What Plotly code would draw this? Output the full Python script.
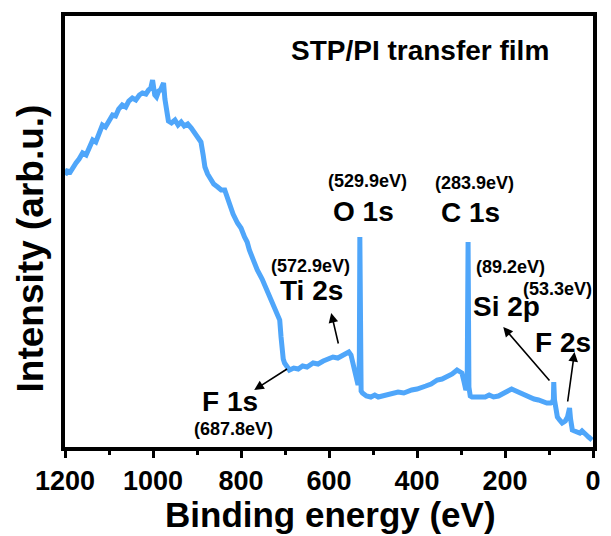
import plotly.graph_objects as go

# XPS survey spectrum of the STP/PI transfer film
binding_energy = [
    1200, 1195, 1188, 1182, 1175, 1168, 1160, 1152, 1145, 1137, 1130, 1122, 1115, 1108,
    1100, 1092, 1085, 1078, 1070, 1062, 1055, 1047, 1039, 1031, 1024, 1016, 1010, 1005,
    1001, 998, 996, 992, 987, 983, 979, 976, 973, 969, 965, 958, 950, 943, 936, 929,
    921, 913, 906, 898, 891, 886, 882, 876, 869, 862, 853, 845, 837, 831, 826, 818,
    808, 800, 792, 786, 781, 772, 763, 752, 741, 730, 719, 715, 712, 709, 707, 704,
    701, 695, 690, 680, 670, 660, 650, 636, 625, 613, 602, 591, 580, 570, 562, 555,
    550, 546, 541, 537, 534, 532, 531, 529.9, 528.5, 527, 524, 515, 505, 496, 488, 478,
    466, 454, 443, 430, 420, 412, 400, 390, 380, 368, 354, 343, 332, 320, 309, 303,
    298, 293, 289, 286, 283.9, 282, 279, 275, 265, 255, 245, 236, 226, 215, 205, 195,
    185, 175, 165, 155, 144, 134, 124, 114, 105, 96, 92, 90, 89.2, 87.5, 84, 81, 76,
    70, 66, 63, 58, 55, 53.3, 51, 47, 42, 36, 30, 25, 20, 15, 10, 5, 2,
]
intensity = [
    272, 276, 275, 280, 284, 288, 294, 292, 300, 307, 305, 314, 322, 320,
    327, 332, 331, 338, 342, 340, 346, 349, 347, 352, 354, 353, 357, 359,
    367, 358, 352, 350, 356, 357, 362, 364, 348, 334, 326, 324, 327, 322, 325, 321,
    323, 319, 314, 310, 305, 292, 280, 273, 267, 263, 260, 257, 257, 249, 240, 233,
    224, 219, 210, 205, 197, 186, 177, 168, 157, 148, 137, 133, 127, 110, 97, 88,
    84, 80, 77, 79, 78, 81, 80, 84, 83, 86, 88, 90, 89, 92, 93, 95,
    92, 84, 74, 66, 62, 70, 90, 210, 75, 56, 54, 51, 50, 52, 50, 51,
    52, 53, 55, 54, 56, 57, 58, 60, 61, 63, 67, 68, 70, 73, 77, 76,
    74, 65, 57, 60, 205, 60, 51, 50, 50, 51, 50, 52, 50, 51, 53, 55,
    58, 56, 54, 52, 49, 48, 47, 45, 44, 44, 45, 48, 65, 47, 38, 30, 27,
    24, 25, 26, 30, 36, 39, 28, 17, 16, 15, 14, 16, 13, 12, 10, 8, 7,
]

# Peak labels: (text, energy position, intensity position, font size)
peak_labels = [
    ("(529.9eV)", 513, 266, 18), ("O 1s", 522, 236, 28),
    ("(283.9eV)", 269, 264, 18), ("C 1s", 278, 235, 28),
    ("(572.9eV)", 642, 181, 18), ("Ti 2s", 640, 157, 28),
    ("(89.2eV)", 188, 180, 18), ("Si 2p", 197, 141, 28),
    ("(53.3eV)", 80, 158, 18), ("F 2s", 69, 105, 28),
    ("F 1s", 824, 46, 28), ("(687.8eV)", 817, 18, 18),
]

# Arrows: (head energy, head intensity, tail energy, tail intensity)
peak_arrows = [
    (595, 134, 578, 102),
    (770, 57, 692, 79),
    (204, 120, 96, 65),
    (42, 95, 58, 44),
]

FONT = "Liberation Sans, Arial, sans-serif"
LINE_BLUE = "#4FA6FA"

fig = go.Figure()
fig.add_trace(go.Scatter(
    x=binding_energy, y=intensity, mode="lines",
    line=dict(color=LINE_BLUE, width=5), showlegend=False,
))

for text, xe, yi, size in peak_labels:
    fig.add_annotation(x=xe, y=yi, text=text, showarrow=False,
                       font=dict(family=FONT, size=size, color="black", weight="bold"))

for hx, hy, tx, ty in peak_arrows:
    fig.add_annotation(x=hx, y=hy, ax=tx, ay=ty, xref="x", yref="y",
                       axref="x", ayref="y", text="", showarrow=True,
                       arrowhead=2, arrowsize=1.2, arrowwidth=1.6, arrowcolor="black")

fig.add_annotation(x=394, y=397, text="STP/PI transfer film", showarrow=False,
                   font=dict(family=FONT, size=28, color="black", weight="bold"))

# Axis titles placed as paper-anchored text
fig.add_annotation(x=0.502, y=-0.156, xref="paper", yref="paper",
                   xanchor="center", yanchor="middle",
                   text="Binding energy (eV)", showarrow=False,
                   font=dict(family=FONT, size=35, color="black", weight="bold"))
fig.add_annotation(x=-0.065, y=0.46, xref="paper", yref="paper", textangle=-90,
                   xanchor="center", yanchor="middle",
                   text="Intensity (arb.u.)", showarrow=False,
                   font=dict(family=FONT, size=37, color="black", weight="bold"))

fig.update_layout(
    width=611, height=536,
    margin=dict(l=65, r=10, t=16, b=89),
    paper_bgcolor="white", plot_bgcolor="white",
    font=dict(family=FONT, color="black"),
)
fig.update_xaxes(
    range=[1200, 0], autorange=False,
    tickvals=[1200, 1000, 800, 600, 400, 200, 0],
    tickfont=dict(family=FONT, size=27, weight="bold"),
    ticks="outside", ticklen=7, tickwidth=3, tickcolor="black",
    minor=dict(tickvals=[1100, 900, 700, 500, 300, 100], ticks="outside",
               ticklen=4, tickwidth=3, tickcolor="black"),
    showline=True, linewidth=4, linecolor="black", mirror=True,
    showgrid=False, zeroline=False,
)
fig.update_yaxes(
    range=[0, 431], autorange=False,
    showticklabels=False, ticks="",
    showline=True, linewidth=4, linecolor="black", mirror=True,
    showgrid=False, zeroline=False,
)

fig.write_html("out.html")
